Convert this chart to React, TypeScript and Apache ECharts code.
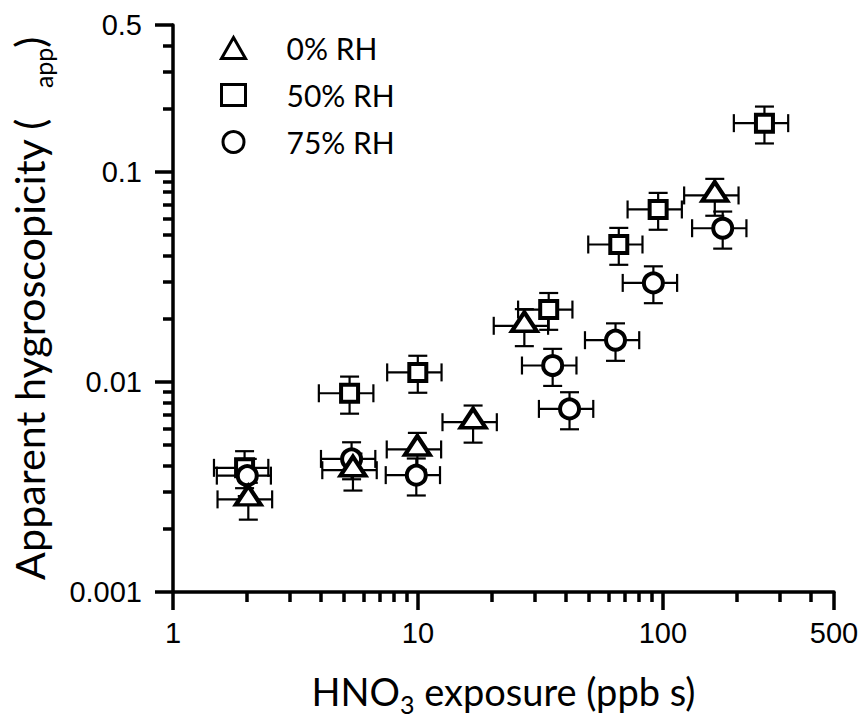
import React, { useEffect, useRef } from 'react';
import * as echarts from 'echarts';

// ---- data ----
const seriesNames = ['0% RH', '50% RH', '75% RH'];

// 0% RH (triangles)
const rh0X = [2.03, 5.43, 9.95, 16.8, 27.2, 163];
const rh0Y = [0.00276, 0.0038, 0.00477, 0.00643, 0.0185, 0.0772];
const rh0XErr = [0.51, 1.36, 2.49, 4.2, 6.8, 40.8];
const rh0YErr = [0.00055, 0.00076, 0.00095, 0.00129, 0.0037, 0.0154];

// 50% RH (squares)
const rh50X = [1.96, 5.26, 9.99, 34.2, 66.1, 95.7, 260];
const rh50Y = [0.0039, 0.00883, 0.0111, 0.0221, 0.0451, 0.0662, 0.1705];
const rh50XErr = [0.49, 1.32, 2.5, 8.55, 16.5, 23.9, 65];
const rh50YErr = [0.00078, 0.00177, 0.00222, 0.0044, 0.009, 0.0132, 0.034];

// 75% RH (circles)
const rh75X = [2.01, 5.36, 9.85, 35.5, 41.6, 64.1, 91.5, 175.6];
const rh75Y = [0.00358, 0.0043, 0.0036, 0.01197, 0.00744, 0.0158, 0.0296, 0.0539];
const rh75XErr = [0.5, 1.34, 2.46, 8.9, 10.4, 16, 22.9, 43.9];
const rh75YErr = [0.00072, 0.00086, 0.00072, 0.0024, 0.00149, 0.0032, 0.0059, 0.0108];

// axis ticks
const xMin = 1;
const xMax = 500;
const yMin = 0.001;
const yMax = 0.5;
const xMinorTicks = [2, 3, 4, 5, 6, 7, 8, 9, 20, 30, 40, 50, 60, 70, 80, 90, 200, 300, 400];
const yMinorTicks = [
  0.002, 0.003, 0.004, 0.005, 0.006, 0.007, 0.008, 0.009,
  0.02, 0.03, 0.04, 0.05, 0.06, 0.07, 0.08, 0.09,
  0.2, 0.3, 0.4,
];
const xTickLabels = ['1', '10', '100', '500'];
const yTickLabels = ['0.001', '0.01', '0.1', '0.5'];

const TITLE_FONT = 'Lato, "Open Sans", sans-serif';
const TICK_FONT = '"Liberation Sans", Arial, sans-serif';

function nearestLabel(v: number, labels: string[]) {
  let best = labels[0];
  let bd = Infinity;
  for (const l of labels) {
    const d = Math.abs(Math.log10(v) - Math.log10(parseFloat(l)));
    if (d < bd) {
      bd = d;
      best = l;
    }
  }
  return best;
}

function errData(xs: number[], ys: number[], xe: number[], ye: number[]) {
  return xs.map((x, i) => [x, ys[i], x - xe[i], x + xe[i], ys[i] - ye[i], ys[i] + ye[i]]);
}

function errRender(params: any, api: any) {
  const x = api.value(0);
  const y = api.value(1);
  const pL = api.coord([api.value(2), y]);
  const pR = api.coord([api.value(3), y]);
  const pB = api.coord([x, api.value(4)]);
  const pT = api.coord([x, api.value(5)]);
  const capH = 9;
  const capW = 9.5;
  const style = { stroke: '#000', lineWidth: 2.2, fill: 'none' };
  const mk = (x1: number, y1: number, x2: number, y2: number) => ({
    type: 'line',
    shape: { x1, y1, x2, y2 },
    style,
  });
  return {
    type: 'group',
    children: [
      mk(pL[0], pL[1], pR[0], pR[1]),
      mk(pL[0], pL[1] - capH, pL[0], pL[1] + capH),
      mk(pR[0], pR[1] - capH, pR[0], pR[1] + capH),
      mk(pB[0], pB[1], pT[0], pT[1]),
      mk(pB[0] - capW, pB[1], pB[0] + capW, pB[1]),
      mk(pT[0] - capW, pT[1], pT[0] + capW, pT[1]),
    ],
  };
}

export default function App() {
  const ref = useRef<HTMLDivElement>(null);

  useEffect(() => {
    document.body.style.margin = '0';
    if (!ref.current) return;
    const chart = echarts.init(ref.current, undefined, { renderer: 'svg' });

    const axisLine = { show: true, lineStyle: { color: '#000', width: 3.5 } };
    const markerStyle = { color: '#fff', borderColor: '#000', borderWidth: 4, opacity: 1 };

    const option: any = {
      animation: false,
      backgroundColor: '#fff',
      grid: { left: 173, right: 27, top: 25, bottom: 129, containLabel: false, outerBoundsMode: 'none' },
      legend: {
        data: seriesNames,
        orient: 'vertical',
        left: 215,
        top: 28,
        itemWidth: 24,
        itemHeight: 21,
        itemGap: 17,
        selectedMode: false,
        itemStyle: { borderWidth: 3 },
        textStyle: {
          fontFamily: TITLE_FONT,
          fontSize: 30,
          color: '#000',
          lineHeight: 27,
          padding: [0, 0, 0, 36],
        },
      },
      xAxis: [
        {
          type: 'log',
          logBase: 10,
          min: xMin,
          max: xMax,
          position: 'bottom',
          axisLine,
          axisTick: { show: true, inside: false, length: 18, lineStyle: { color: '#000', width: 3.5 } },
          axisLabel: {
            show: true,
            margin: 26,
            fontFamily: TICK_FONT,
            fontSize: 29,
            color: '#000',
            formatter: (v: number) => nearestLabel(v, xTickLabels),
          },
          splitLine: { show: false },
          minorTick: { show: false },
          name: '{m|HNO}{s|3}{m| exposure (ppb s)}',
          nameLocation: 'middle',
          nameGap: 80,
          nameTextStyle: {
            rich: {
              m: { fontFamily: TITLE_FONT, fontSize: 38, lineHeight: 38, color: '#000', verticalAlign: 'top' },
              s: { fontFamily: TITLE_FONT, fontSize: 25, lineHeight: 16, color: '#000', verticalAlign: 'top', padding: [19, 0, 0, 0] },
            },
          },
        },
        {
          type: 'log',
          logBase: 10,
          min: xMin,
          max: xMax,
          position: 'bottom',
          axisLine: { show: false },
          axisTick: { show: true, inside: false, length: 10, customValues: xMinorTicks, lineStyle: { color: '#000', width: 3.5 } },
          axisLabel: { show: false },
          splitLine: { show: false },
        },
      ],
      yAxis: [
        {
          type: 'log',
          logBase: 10,
          min: yMin,
          max: yMax,
          position: 'left',
          axisLine,
          axisTick: { show: true, inside: false, length: 18, lineStyle: { color: '#000', width: 3.5 } },
          axisLabel: {
            show: true,
            margin: 31,
            fontFamily: TICK_FONT,
            fontSize: 29,
            color: '#000',
            formatter: (v: number) => nearestLabel(v, yTickLabels),
          },
          splitLine: { show: false },
          minorTick: { show: false },
          name: '{m|Apparent hygroscopicity (}{s|app}{m|)}',
          nameLocation: 'middle',
          nameGap: 119,
          nameTextStyle: {
            rich: {
              m: { fontFamily: TITLE_FONT, fontSize: 41.3, lineHeight: 46, color: '#000', verticalAlign: 'top' },
              s: { fontFamily: TITLE_FONT, fontSize: 25, lineHeight: 25, color: '#000', verticalAlign: 'top', padding: [22, 0, 0, 30] },
            },
          },
        },
        {
          type: 'log',
          logBase: 10,
          min: yMin,
          max: yMax,
          position: 'left',
          axisLine: { show: false },
          axisTick: { show: true, inside: false, length: 10, customValues: yMinorTicks, lineStyle: { color: '#000', width: 3.5 } },
          axisLabel: { show: false },
          splitLine: { show: false },
        },
      ],
      series: [
        {
          name: 'err50',
          type: 'custom',
          renderItem: errRender,
          data: errData(rh50X, rh50Y, rh50XErr, rh50YErr),
          encode: { x: 0, y: 1 },
          z: 2,
          silent: true,
        },
        {
          name: 'err75',
          type: 'custom',
          renderItem: errRender,
          data: errData(rh75X, rh75Y, rh75XErr, rh75YErr),
          encode: { x: 0, y: 1 },
          z: 2,
          silent: true,
        },
        {
          name: 'err0',
          type: 'custom',
          renderItem: errRender,
          data: errData(rh0X, rh0Y, rh0XErr, rh0YErr),
          encode: { x: 0, y: 1 },
          z: 2,
          silent: true,
        },
        {
          name: seriesNames[1],
          type: 'scatter',
          symbol: 'rect',
          symbolSize: 17,
          itemStyle: markerStyle,
          data: rh50X.map((x, i) => [x, rh50Y[i]]),
          z: 3,
          emphasis: { disabled: true },
        },
        {
          name: seriesNames[2],
          type: 'scatter',
          symbol: 'circle',
          symbolSize: 19,
          itemStyle: markerStyle,
          data: rh75X.map((x, i) => [x, rh75Y[i]]),
          z: 3,
          emphasis: { disabled: true },
        },
        {
          name: seriesNames[0],
          type: 'scatter',
          symbol: 'triangle',
          symbolSize: [25, 19],
          symbolOffset: [0, -4],
          itemStyle: markerStyle,
          data: rh0X.map((x, i) => [x, rh0Y[i]]),
          z: 3,
          emphasis: { disabled: true },
        },
      ],
    };

    chart.setOption(option);
    return () => chart.dispose();
  }, []);

  return <div ref={ref} style={{ width: 861, height: 721 }} />;
}
